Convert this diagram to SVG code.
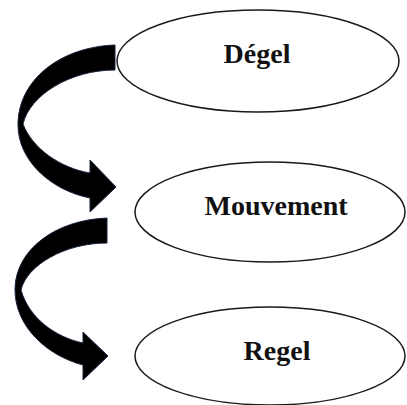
<svg xmlns="http://www.w3.org/2000/svg" width="407" height="405" viewBox="0 0 407 405">
<style>
.node ellipse{fill:#fff;stroke:#1a1a1a;stroke-width:1.5}
.node text{font-family:"Liberation Serif","Times New Roman",serif;font-weight:bold;font-size:28px;fill:#111;text-anchor:middle}
.conn path{fill:#000;stroke:#16243a;stroke-width:1}
</style>
<rect width="407" height="405" fill="#fff"/>
<g id="degel" class="node">
<ellipse cx="258" cy="61" rx="141" ry="51"/>
<text x="257" y="63">Dégel</text>
</g>
<g id="mouvement" class="node">
<ellipse cx="270" cy="212" rx="135" ry="50"/>
<text x="276" y="215">Mouvement</text>
</g>
<g id="regel" class="node">
<ellipse cx="270" cy="356" rx="135" ry="49"/>
<text x="277" y="360">Regel</text>
</g>
<g id="connectors" class="conn">
<path d="M115,45 C60,47 18,80 18,125 C18,160 50,190 90,198 L90,212 L116,187 L90,160 L90,173 C60,168 32,148 23,124 C30,95 70,70 115,70 Z"/>
<path d="M107,218 C55,220 15,250 15,290 C15,325 45,355 83,365 L83,380 L108,356 L83,332 L83,343 C55,337 29,318 21,290 C27,265 65,243 107,243 Z"/>
</g>
</svg>
